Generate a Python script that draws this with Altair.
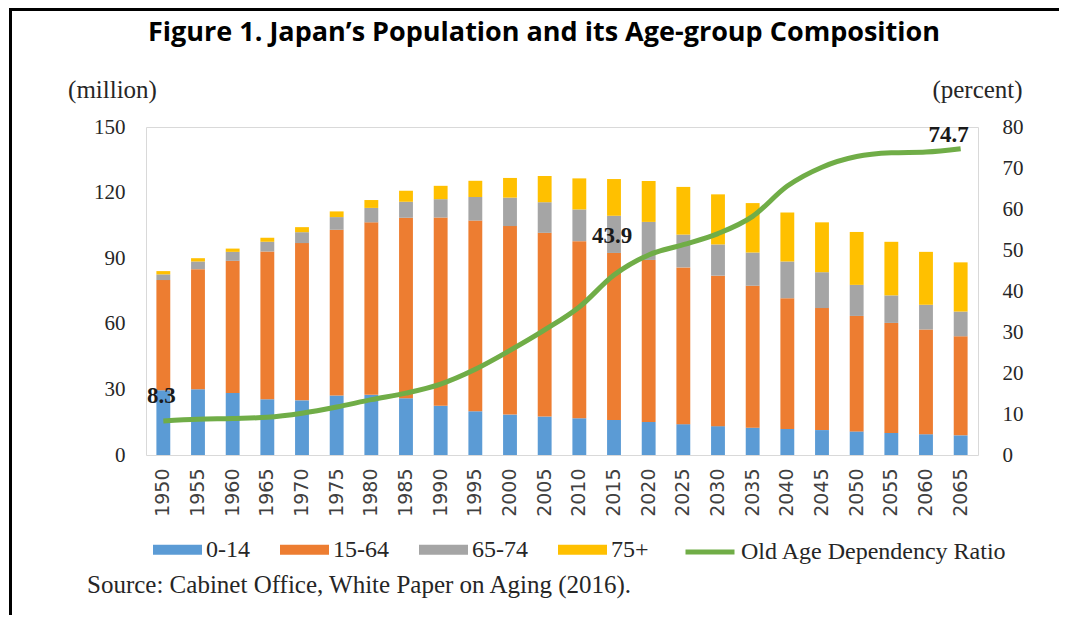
import altair as alt
import pandas as pd

# ---------------- data ----------------
years = [1950, 1955, 1960, 1965, 1970, 1975, 1980, 1985, 1990, 1995, 2000, 2005,
         2010, 2015, 2020, 2025, 2030, 2035, 2040, 2045, 2050, 2055, 2060, 2065]
age_0_14 = [29.6, 30.1, 28.4, 25.5, 25.0, 27.2, 27.5, 26.0, 22.5, 20.0, 18.5, 17.6,
            16.8, 16.0, 15.1, 14.1, 13.2, 12.5, 11.9, 11.4, 10.8, 10.1, 9.5, 9.0]
age_15_64 = [50.4, 54.9, 60.4, 67.6, 71.9, 75.8, 78.9, 82.5, 86.1, 87.2, 86.2, 84.0,
             81.0, 76.4, 74.1, 71.7, 68.8, 64.9, 59.8, 55.8, 52.8, 50.3, 47.9, 45.3]
age_65_74 = [2.6, 3.5, 4.1, 4.4, 5.0, 5.8, 6.6, 7.3, 8.4, 10.8, 13.0, 14.0,
             14.5, 17.0, 17.4, 15.0, 14.3, 15.2, 16.8, 16.4, 14.2, 12.6, 11.3, 11.3]
age_75_plus = [1.5, 1.5, 1.5, 1.9, 2.3, 2.6, 3.6, 5.1, 6.1, 7.4, 9.0, 12.0,
               14.2, 16.8, 18.7, 21.8, 22.9, 22.6, 22.4, 22.8, 24.2, 24.5, 24.2, 22.5]
dependency_ratio = [8.3, 8.7, 8.9, 9.2, 10.2, 11.7, 13.5, 15.1, 17.3, 20.9, 25.5, 30.5,
                    36.1, 43.9, 48.8, 51.3, 54.0, 58.2, 65.6, 70.2, 72.8, 73.7, 73.9, 74.7]

groups = ["0-14", "15-64", "65-74", "75+"]
group_colors = ["#5B9BD5", "#ED7D31", "#A5A5A5", "#FFC000"]
line_name = "Old Age Dependency Ratio"
line_color = "#70AD47"
labelled_years = [1950, 2015, 2065]

left_ticks = [0, 30, 60, 90, 120, 150]
right_ticks = [0, 10, 20, 30, 40, 50, 60, 70, 80]

title_text = "Figure 1. Japan\u2019s Population and its Age-group Composition"
source_text = "Source: Cabinet Office, White Paper on Aging (2016)."
left_unit = "(million)"
right_unit = "(percent)"

# ---------------- tables ----------------
series = [age_0_14, age_15_64, age_65_74, age_75_plus]
rows = []
for gi, (g, vals) in enumerate(zip(groups, series)):
    for y, v in zip(years, vals):
        rows.append({"year": str(y), "group": g, "value": v, "order": gi})
bars_df = pd.DataFrame(rows)

line_df = pd.DataFrame({"year": [str(y) for y in years],
                        "ratio": dependency_ratio,
                        "series": line_name})

W, H = 832, 328
SERIF = "Liberation Serif"
TXT = "#262626"
year_sort = [str(y) for y in years]

x_enc = alt.X("year:O",
              sort=year_sort,
              scale=alt.Scale(paddingInner=0.6, paddingOuter=0.3),
              axis=alt.Axis(title=None, labelAngle=-90, labelAlign="right",
                            labelBaseline="middle", labelFont="DejaVu Sans",
                            labelFontSize=19, labelColor="#404040",
                            labelPadding=13, ticks=False, domain=False,
                            grid=False))

bars = alt.Chart(bars_df).mark_bar().encode(
    x=x_enc,
    y=alt.Y("value:Q", stack="zero",
            scale=alt.Scale(domain=[0, 150], nice=False),
            axis=alt.Axis(values=left_ticks, title=left_unit, titleAngle=0,
                          titleX=-34, titleY=-30, titleAlign="center",
                          titleBaseline="alphabetic", titleFont=SERIF,
                          titleFontSize=25, titleFontWeight="normal",
                          titleColor=TXT,
                          labelFont=SERIF, labelFontSize=21, labelColor=TXT,
                          labelPadding=21, ticks=False, domain=False,
                          grid=False)),
    color=alt.Color("group:N",
                    scale=alt.Scale(domain=groups, range=group_colors),
                    legend=alt.Legend(orient="none", legendX=7, legendY=398,
                                      direction="horizontal", title=None,
                                      symbolType="M-1,-0.2H1V0.2H-1Z",
                                      symbolSize=2401, symbolStrokeWidth=0,
                                      symbolOpacity=1,
                                      labelFont=SERIF, labelFontSize=24,
                                      labelColor=TXT, labelOffset=4,
                                      labelLimit=400, columnPadding=30)),
    order=alt.Order("order:Q"),
)

y_right = alt.Y("ratio:Q", scale=alt.Scale(domain=[0, 80], nice=False),
                axis=alt.Axis(orient="right", values=right_ticks,
                              title=right_unit, titleAngle=0, titleX=-1,
                              titleY=-30, titleAlign="center",
                              titleBaseline="alphabetic", titleFont=SERIF,
                              titleFontSize=25, titleFontWeight="normal",
                              titleColor=TXT,
                              labelFont=SERIF, labelFontSize=21, labelColor=TXT,
                              labelPadding=24, ticks=False, domain=False,
                              grid=False))

line = alt.Chart(line_df).mark_line(strokeWidth=5, interpolate="monotone").encode(
    x=alt.X("year:O", sort=year_sort),
    y=y_right,
    stroke=alt.Stroke("series:N",
                      scale=alt.Scale(domain=[line_name], range=[line_color]),
                      legend=alt.Legend(orient="none", legendX=537, legendY=398,
                                        direction="horizontal", title=None,
                                        symbolType="stroke", symbolSize=2401,
                                        symbolStrokeWidth=5,
                                        labelFont=SERIF, labelFontSize=24,
                                        labelColor=TXT, labelOffset=4,
                                        labelLimit=600)),
)

label_offsets = {1950: (-2, -18), 2015: (-2, -32), 2065: (-12, -7)}
label_layers = []
for yr in labelled_years:
    dx, dy = label_offsets[yr]
    sub = line_df[line_df["year"] == str(yr)].copy()
    sub["label"] = sub["ratio"].map(lambda v: f"{v:.1f}")
    label_layers.append(
        alt.Chart(sub).mark_text(font=SERIF, fontSize=23, fontWeight="bold",
                                 color="#1a1a1a", dx=dx, dy=dy,
                                 baseline="alphabetic", align="center").encode(
            x=alt.X("year:O", sort=year_sort),
            y=alt.Y("ratio:Q", scale=alt.Scale(domain=[0, 80], nice=False)),
            text="label:N")
    )

line_layer = alt.layer(line, *label_layers)

one = alt.Data(values=[{}])
title_mark = alt.Chart(one).mark_text(
    text=title_text, font="Open Sans", fontSize=27, fontWeight="bold",
    color="#000000", align="center", baseline="alphabetic"
).encode(x=alt.value(398), y=alt.value(-86))

source_mark = alt.Chart(one).mark_text(
    text=source_text, font=SERIF, fontSize=25, color=TXT,
    align="left", baseline="alphabetic"
).encode(x=alt.value(-59), y=alt.value(466))

frame_left = alt.Chart(one).mark_rule(color="#000000", strokeWidth=3).encode(
    x=alt.value(-135.5), y=alt.value(-119.5), y2=alt.value(500))
frame_top = alt.Chart(one).mark_rule(color="#000000", strokeWidth=3).encode(
    x=alt.value(-137), x2=alt.value(920), y=alt.value(-117.5))

chart = alt.layer(
    bars, line_layer, title_mark, source_mark, frame_left, frame_top
).resolve_scale(y="independent", color="independent").properties(
    width=W, height=H,
    padding={"left": 138, "top": 119, "right": 81, "bottom": 160},
    autosize=alt.AutoSizeParams(type="none"),
    background="#ffffff",
).configure_view(stroke="#D9D9D9", strokeWidth=1)

chart.save("out.html", embed_options={"renderer": "svg", "actions": False})
